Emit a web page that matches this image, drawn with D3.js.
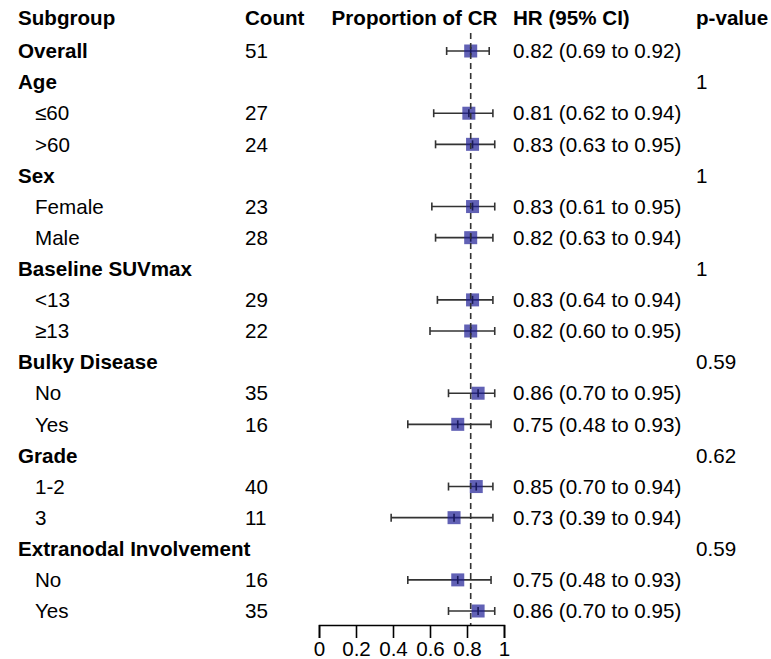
<!DOCTYPE html>
<html>
<head>
<meta charset="utf-8">
<script src="https://cdn.jsdelivr.net/npm/d3@7"></script>
<style>
  html, body { margin: 0; padding: 0; background: #fff; }
  svg { display: block; font-family: "Liberation Sans", Arial, sans-serif; }
</style>
</head>
<body>
<svg id="chart" width="771" height="659"></svg>
<script>
// ---- data ----
const headers = ["Subgroup", "Count", "Proportion of CR", "HR (95% CI)", "p-value"];
const labels = ["Overall", "Age", "≤60", ">60", "Sex", "Female", "Male",
  "Baseline SUVmax", "<13", "≥13", "Bulky Disease", "No", "Yes",
  "Grade", "1-2", "3", "Extranodal Involvement", "No", "Yes"];
const isGroup = [true, true, false, false, true, false, false,
  true, false, false, true, false, false, true, false, false, true, false, false];
const counts = ["51", "", "27", "24", "", "23", "28", "", "29", "22", "", "35", "16", "", "40", "11", "", "16", "35"];
const est =   [0.82, null, 0.81, 0.83, null, 0.83, 0.82, null, 0.83, 0.82, null, 0.86, 0.75, null, 0.85, 0.73, null, 0.75, 0.86];
const lower = [0.69, null, 0.62, 0.63, null, 0.61, 0.63, null, 0.64, 0.60, null, 0.70, 0.48, null, 0.70, 0.39, null, 0.48, 0.70];
const upper = [0.92, null, 0.94, 0.95, null, 0.95, 0.94, null, 0.94, 0.95, null, 0.95, 0.93, null, 0.94, 0.94, null, 0.93, 0.95];
const pvals = ["", "1", "", "", "1", "", "", "1", "", "", "0.59", "", "", "0.62", "", "", "0.59", "", ""];
const refLine = 0.82;
const xTicks = [0, 0.2, 0.4, 0.6, 0.8, 1];

// ---- layout ----
const svg = d3.select("#chart");
const fs = 20.6;
const x = d3.scaleLinear().domain([0, 1]).range([319, 504]);
const y = d3.scalePoint().domain(d3.range(labels.length)).range([51, 611]);
const headerY = 18;
const axisY = 625;
const colX = { sub: 18, subIndent: 35, count: 245, hr: 513, p: 696 };

const fmt = d3.format(".2f");
const hrText = i => est[i] == null ? "" : `${fmt(est[i])} (${fmt(lower[i])} to ${fmt(upper[i])})`;

// headers
const hx = [colX.sub, colX.count, x(0.5) + 3, colX.hr, colX.p];
const ha = ["start", "start", "middle", "start", "start"];
svg.append("g").selectAll("text").data(headers).join("text")
  .attr("x", (d, i) => hx[i]).attr("y", headerY)
  .attr("dy", "0.35em")
  .attr("text-anchor", (d, i) => ha[i])
  .attr("font-size", fs).attr("font-weight", "bold")
  .text(d => d);

const rows = svg.append("g").selectAll("g").data(labels.map((l, i) => i)).join("g")
  .attr("transform", i => `translate(0,${y(i)})`);

rows.append("text")
  .attr("x", i => isGroup[i] ? colX.sub : colX.subIndent)
  .attr("dy", "0.35em").attr("font-size", fs)
  .attr("font-weight", i => isGroup[i] ? "bold" : "normal")
  .text(i => labels[i]);
rows.append("text").attr("x", colX.count).attr("dy", "0.35em").attr("font-size", fs).text(i => counts[i]);
rows.append("text").attr("x", colX.hr).attr("dy", "0.35em").attr("font-size", fs).text(i => hrText(i));
rows.append("text").attr("x", colX.p).attr("dy", "0.35em").attr("font-size", fs).text(i => pvals[i]);

// reference dashed line
svg.append("line")
  .attr("x1", x(refLine)).attr("x2", x(refLine))
  .attr("y1", 33).attr("y2", axisY)
  .attr("stroke", "#333").attr("stroke-width", 1.6)
  .attr("stroke-dasharray", "6,4");

// CIs
const ci = rows.filter(i => est[i] != null);
ci.append("line")
  .attr("x1", i => x(lower[i])).attr("x2", i => x(upper[i]))
  .attr("stroke", "#333").attr("stroke-width", 1.6);
ci.append("line").attr("x1", i => x(lower[i])).attr("x2", i => x(lower[i]))
  .attr("y1", -4).attr("y2", 4).attr("stroke", "#333").attr("stroke-width", 1.6);
ci.append("line").attr("x1", i => x(upper[i])).attr("x2", i => x(upper[i]))
  .attr("y1", -4).attr("y2", 4).attr("stroke", "#333").attr("stroke-width", 1.6);
ci.append("rect")
  .attr("x", i => x(est[i]) - 6.5).attr("y", -6.5)
  .attr("width", 13).attr("height", 13)
  .attr("fill", "rgb(30,30,150)").attr("fill-opacity", 0.7);
ci.append("line").attr("x1", i => x(est[i])).attr("x2", i => x(est[i]))
  .attr("y1", -4).attr("y2", 4).attr("stroke", "#1a1a5a").attr("stroke-width", 1.6);

// axis
const axis = d3.axisBottom(x).tickValues(xTicks).tickSize(13).tickPadding(3)
  .tickFormat(d => d3.format("")(d));
const ag = svg.append("g").attr("transform", `translate(0,${axisY})`).call(axis);
ag.select(".domain").attr("stroke", "#000").attr("stroke-width", 1.6);
ag.selectAll(".tick line").attr("stroke", "#000").attr("stroke-width", 1.6);
ag.selectAll(".tick text").attr("font-size", fs).attr("fill", "#000")
  .attr("font-family", "Liberation Sans, Arial, sans-serif");
</script>
</body>
</html>
